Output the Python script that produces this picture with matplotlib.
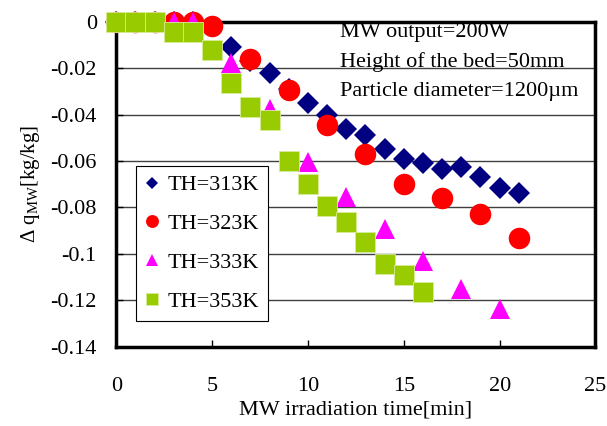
import numpy as np
import matplotlib
matplotlib.use('Agg')
import matplotlib.pyplot as plt

plt.rcParams['font.family'] = ['Liberation Serif', 'DejaVu Serif']
plt.rcParams['mathtext.fontset'] = 'custom'
plt.rcParams['mathtext.rm'] = 'Liberation Serif'
plt.rcParams['mathtext.it'] = 'Liberation Serif:italic'
plt.rcParams['axes.unicode_minus'] = False

# data
t_313 = [0, 1, 2, 3, 4, 6, 7, 8, 9, 10, 11, 12, 13, 14, 15, 16, 17, 18, 19, 20, 21]
q_313 = [0, 0, 0, 0, 0, -0.0107, -0.017, -0.0222, -0.0288, -0.035, -0.040, -0.0464,
         -0.0486, -0.0547, -0.059, -0.0607, -0.0633, -0.0628, -0.0667, -0.0718, -0.0736]

t_323 = [0, 1, 2, 3, 4, 5, 7, 9, 11, 13, 15, 17, 19, 21]
q_323 = [0, 0, 0, 0, 0, -0.0017, -0.0160, -0.0293, -0.0447, -0.0572, -0.0700,
         -0.0761, -0.0829, -0.0933]

t_333 = [0, 1, 2, 3, 4, 6, 8, 10, 12, 14, 16, 18, 20]
q_333 = [0, 0, 0, 0, 0, -0.0177, -0.0378, -0.0605, -0.0757, -0.0893, -0.1029,
         -0.1150, -0.1236]

t_353 = [0, 1, 2, 3, 4, 5, 6, 7, 8, 9, 10, 11, 12, 13, 14, 15, 16]
q_353 = [0, 0, 0, -0.0044, -0.0044, -0.0121, -0.0264, -0.0367, -0.0424, -0.0600,
         -0.0700, -0.0796, -0.0864, -0.0950, -0.1043, -0.1093, -0.1164]

labels = ['TH=313K', 'TH=323K', 'TH=333K', 'TH=353K']
notes = ['MW output=200W', 'Height of the bed=50mm', 'Particle diameter=1200\u00b5m']
x_ticks = [0, 5, 10, 15, 20, 25]
y_ticks = [0, -0.02, -0.04, -0.06, -0.08, -0.1, -0.12, -0.14]
y_tick_labels = ['0', '-0.02', '-0.04', '-0.06', '-0.08', '-0.1', '-0.12', '-0.14']

fig = plt.figure(figsize=(6.07, 4.26), dpi=100)
ax = fig.add_axes([0.1916, 0.1862, 0.7894, 0.7629])

ax.plot(t_313, q_313, 'D', color='#000080', ms=10.7, mew=0, label=labels[0], clip_on=False, zorder=3)
ax.plot(t_323, q_323, 'o', color='#FF0000', ms=15.5, mew=0, label=labels[1], clip_on=False, zorder=4)
ax.plot(t_333, q_333, '^', color='#FF00FF', ms=15, mew=0, label=labels[2], clip_on=False, zorder=5)
ax.plot(t_353, q_353, 's', color='#99CC00', ms=14.5, mew=0.6, mec='#d8ec9a', label=labels[3],
        clip_on=False, zorder=6)

ax.set_xlim(0, 25)
ax.set_ylim(-0.14, 0)
ax.set_xticks(x_ticks)
ax.set_yticks(y_ticks)
ax.set_yticklabels(y_tick_labels)
ax.tick_params(direction='in', length=5, width=1, labelsize=16)
ax.tick_params(axis='y', pad=14)
ax.tick_params(axis='x', pad=22)
ax.yaxis.grid(True, color='#404040', lw=1)
ax.set_axisbelow(True)
for s in ax.spines.values():
    s.set_linewidth(2.5)
    s.set_zorder(2.5)

ax.set_xlabel('MW irradiation time[min]', fontsize=16, labelpad=3)
ax.set_ylabel(r'$\Delta\ \mathrm{q}_{\mathrm{MW}}$[kg/kg]', fontsize=15, labelpad=6)

note_y = [0.953, 0.861, 0.771]
for txt, yy in zip(notes, note_y):
    ax.text(0.467, yy, txt, transform=ax.transAxes, fontsize=16,
            va='baseline', ha='left', zorder=2)

leg = ax.legend(loc='upper left', bbox_to_anchor=(0.041, 0.556), borderaxespad=0,
                fontsize=16, fancybox=False, framealpha=1, edgecolor='black',
                labelspacing=0.82, handletextpad=0.35, handlelength=0.66, borderpad=0.4,
                markerscale=0.6)
leg.get_frame().set_linewidth(0.8)
leg.set_zorder(7)

fig.savefig('out.png', dpi=100)
